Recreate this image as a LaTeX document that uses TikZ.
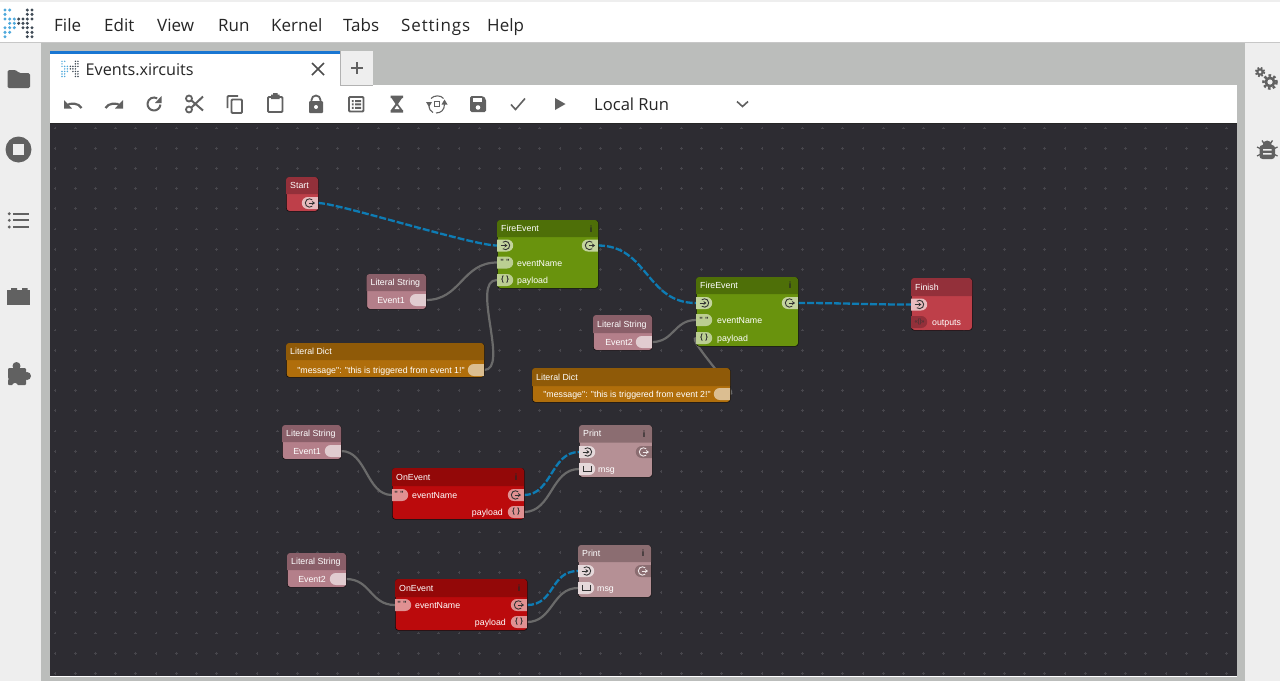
\documentclass[tikz,border=0pt]{standalone}
\usepackage{fontspec}
\setmainfont{Open Sans}
\newfontfamily\nodefont{Liberation Sans}
\usetikzlibrary{shapes.misc,arrows.meta}
\pgfdeclarelayer{canvaslayer}
\pgfdeclarelayer{linklayer}
\pgfsetlayers{canvaslayer,linklayer,main}
\definecolor{ink}{HTML}{616161}
\definecolor{chrome}{HTML}{EEEEEE}
\definecolor{shell}{HTML}{BBBDBB}
\definecolor{canvasbg}{HTML}{2D2C32}
\definecolor{gridmark}{HTML}{47464C}
\definecolor{linkblue}{HTML}{0E7CB4}
\definecolor{linkgrey}{HTML}{6A6A6A}
\definecolor{tabblue}{HTML}{1976D2}
\definecolor{logoblue}{HTML}{4FA9DC}
\definecolor{logodark}{HTML}{3F4A55}
\definecolor{startH}{HTML}{93303A}\definecolor{startB}{HTML}{BE3F49}
\definecolor{fireH}{HTML}{4E6F08}\definecolor{fireB}{HTML}{69930D}
\definecolor{litH}{HTML}{8A5F69}\definecolor{litB}{HTML}{B47F8A}
\definecolor{dictH}{HTML}{8F5A08}\definecolor{dictB}{HTML}{B06E0B}
\definecolor{onH}{HTML}{930808}\definecolor{onB}{HTML}{BB0A0C}
\definecolor{printH}{HTML}{8B6D71}\definecolor{printB}{HTML}{B59095}
\tikzset{
  menutext/.style={anchor=west,inner sep=0,text height=12pt,text depth=0pt,font=\fontsize{17}{20}\selectfont,text=black!85},
  nodebox/.style={draw=black!70!canvasbg,line width=.6,rounded corners=3,anchor=north west,inner sep=0},
  nodetitle/.style={anchor=west,inner sep=0,text height=6.4pt,text depth=0pt,text=white,font=\nodefont\fontsize{8.8}{10}\selectfont},
  rowlabel/.style={inner sep=0,text height=6.4pt,text depth=0pt,text=white,font=\nodefont\fontsize{8.8}{10}\selectfont},
  infolabel/.style={inner sep=0,text=black!85,font=\nodefont\bfseries\fontsize{9}{10}\selectfont},
  pinL/.style={rounded rectangle,rounded rectangle west arc=none,minimum width=16,minimum height=12,inner sep=0,anchor=west},
  pinR/.style={rounded rectangle,rounded rectangle east arc=none,minimum width=16,minimum height=12,inner sep=0,anchor=east},
  pinmark/.style={inner sep=0,text=black!80,font=\nodefont\bfseries\fontsize{7.5}{8}\selectfont},
  blueflow/.style={draw=linkblue,line width=2.3,dash pattern=on 7pt off 2pt},
  greyflow/.style={draw=linkgrey,line width=2.2},
  icon/.style={draw=ink,fill=none,line width=2},
  inglyph/.pic={
    \draw[line width=.9,pic actions] (0.5,0) ++(130:4.2) arc (130:-130:4.2);
    \draw[line width=1,-{Stealth[length=3pt,width=4pt]},pic actions] (-4.5,0) -- (2.4,0);},
  outglyph/.pic={
    \draw[line width=.9,pic actions] (-0.5,0) ++(50:4.2) arc (50:310:4.2);
    \draw[line width=1,-{Stealth[length=3pt,width=4pt]},pic actions] (-1.5,0) -- (5,0);},
  listglyph/.pic={
    \draw[line width=1,pic actions] (-4,-3) -- (-4,2.5) -- (4,2.5) -- (4,-3);},
  undoicon/.pic={
    \draw[draw=ink,line width=2.2] (8.5,4) .. controls (6,-1) and (-3,-2) .. (-7,2);
    \fill[ink] (-9,-4) -- (-9,4.5) -- (-1,4.5) -- cycle;},
}
\newcommand{\xcard}[9]{%
  \pgfmathsetmacro\cw{#4-#2}\pgfmathsetmacro\ch{#5-#3}
  \node[nodebox,fill=#8,minimum width=\cw pt,minimum height=\ch pt] (#1) at (#2,#3) {};
  \fill[#7] (#2,#6) [rounded corners=3] -- (#2,#3) -- (#4,#3) [sharp corners] -- (#4,#6) -- cycle;
  \pgfmathsetmacro\ty{(#3+#6)/2}\pgfmathsetmacro\tx{#2+4}
  \node[nodetitle] (#1-title) at (\tx,\ty) {#9};
}
\begin{document}
\begin{tikzpicture}[x=1pt,y=-1pt]
\useasboundingbox (0,0) rectangle (1280,681);
\begin{pgfonlayer}{canvaslayer}
\fill[white] (0,0) rectangle (1280,681);
\fill[chrome] (0,0) rectangle (1280,1.5);
\fill[shell] (41,43) rectangle (1245,681);
\fill[chrome] (0,43) rectangle (41,681);
\fill[chrome] (1245,43) rectangle (1280,681);
\fill[black!22] (0,42) rectangle (1280,43);
\fill[white] (50,85) rectangle (1237,124);
\fill[white] (50,51) rectangle (340,85);
\fill[white] (50,676) rectangle (1237,677);
\fill[canvasbg] (50,124) rectangle (1237,676);
\fill[black!85] (50,123.4) rectangle (1237,124.2);
\fill[chrome] (340,51) rectangle (373,85);
\draw[black!30,line width=.6] (340.3,51) -- (340.3,85) -- (373,85);
\fill[tabblue] (50,51) rectangle (340,54);
\foreach \i in {0,...,58}{\foreach \j in {0,...,27}{
  \pgfmathsetmacro\gx{54.9+20.2*\i}\pgfmathsetmacro\gy{128+20.2*\j}
  \fill[gridmark] (\gx-1.4,\gy-.35) rectangle (\gx+1.4,\gy+.35);
  \fill[gridmark] (\gx-.35,\gy-1.4) rectangle (\gx+.35,\gy+1.4);
}}
\end{pgfonlayer}

% application logo
\foreach \cx/\cy in {5/10,9.7/10,5/14.3,5/19,9.7/19,14.3/19,9.7/23.3,14.3/23.3,5/27.7,9.7/27.7,14.3/27.7,5/32.3,9.7/32.3,5/36.7}
  \fill[logoblue] (\cx,\cy) circle (1.7);
\foreach \cx/\cy in {27.3/10,32/10,27.3/14.3,32/14.3,18.7/19,23/19,27.3/19,32/19,18.7/23.3,23/23.3,27.3/23.3,23/27.7,27.3/27.7,32/27.7,27.3/32.3,32/32.3,27.3/36.7,32/36.7}
  \fill[logodark] (\cx,\cy) circle (1.7);

% menu
\node[menutext] (mFile) at (54,25) {File};
\node[menutext] (mEdit) at (104,25) {Edit};
\node[menutext] (mView) at (157,25) {View};
\node[menutext] (mRun) at (218,25) {Run};
\node[menutext] (mKernel) at (271,25) {Kernel};
\node[menutext] (mTabs) at (343,25) {Tabs};
\node[menutext] (mSettings) at (401,25) {\addfontfeature{LetterSpace=5}Settings};
\node[menutext] (mHelp) at (487,25) {Help};

% tab
\begin{scope}[shift={(62,60.5)},scale=.56]
\foreach \cx/\cy in {0/1,3.2/1,0/4,0/7,3.2/7,6.4/7,3.2/10,6.4/10,0/13,3.2/13,6.4/13,0/16,3.2/16,0/19,3.2/19}
  \fill[logoblue] (\cx*1.5,\cy*1.5) circle (1.5);
\foreach \cx/\cy in {16/1,19/1,16/4,19/4,10/7,13/7,16/7,19/7,10/10,13/10,16/10,13/13,16/13,19/13,16/16,19/16,16/19,19/19}
  \fill[logodark] (\cx*1.5,\cy*1.5) circle (1.5);
\end{scope}
\node[menutext,font=\fontsize{16.2}{20}\selectfont] (tabTitle) at (85.5,69) {Events.xircuits};
\draw[black!70,line width=1.5] (312,63) -- (324,75) (324,63) -- (312,75);
\draw[ink,line width=1.5] (351,68) -- (363,68) (357,62) -- (357,74);

% toolbar icons
\pic at (73,104) {undoicon};
\pic[xscale=-1] at (114,104) {undoicon};
\draw[icon] (154,104) ++(5:6.5) arc (5:300:6.5);
\fill[ink] (161.5,96) -- (161.5,103) -- (155,103) -- cycle;
% scissors
\draw[icon,line width=1.8] (189,98.5) circle (3) (189,109.5) circle (3);
\draw[ink,line width=2] (191.5,100.5) -- (203,110.5) (191.5,107.5) -- (203,96.5);
% copy
\draw[icon,line width=1.8,rounded corners=1] (227.5,108) -- (227.5,96) -- (238,96);
\draw[icon,line width=1.8,rounded corners=1] (231.5,99.5) rectangle (242,113);
% paste
\draw[icon,line width=1.8,rounded corners=1] (268,97) rectangle (282.5,112);
\fill[ink] (271,94.5) rectangle (279.5,99) (273,93) rectangle (277.5,95);
% lock
\draw[icon,line width=1.8] (311.5,102) -- (311.5,100) arc (180:360:4.5) -- (320.5,102);
\fill[ink,rounded corners=1] (309,101) rectangle (323,113);
\fill[white] (316,107) circle (2);
% list
\draw[icon,line width=1.8,rounded corners=1] (349,97) rectangle (363.5,111.5);
\fill[ink] (351.8,100) rectangle (353.5,102) (351.8,103.4) rectangle (353.5,105.4) (351.8,106.8) rectangle (353.5,108.8);
\fill[ink] (355,100) rectangle (361,102) (355,103.4) rectangle (361,105.4) (355,106.8) rectangle (361,108.8);
% hourglass
\fill[ink] (390.5,95.5) rectangle (403,98) (390.5,110) rectangle (403,112.5);
\fill[ink] (391.5,98) -- (402,98) -- (398,104) -- (402.5,110) -- (391,110) -- (395.5,104) -- cycle;
\fill[white] (394.5,109) -- (397,105.5) -- (399.5,109) -- cycle;
% compile
\draw[ink,line width=1.1] (433,112.5) .. controls (430.5,111.5) and (429,109) .. (429,105);
\draw[ink,line width=1.1] (431,98.5) .. controls (434,95) and (441,95) .. (443.5,98.5);
\draw[ink,line width=1.1] (444.5,104) .. controls (444.5,110) and (441,113) .. (436,113);
\draw[ink,line width=1] (434.5,101.5) rectangle (439.8,106.5);
\fill[ink] (426,102) -- (432,102) -- (429,107) -- cycle;
\fill[ink] (441.5,104.5) -- (447.5,104.5) -- (444.5,99.5) -- cycle;
% save
\fill[ink,rounded corners=1.5] (470,96) -- (483,96) -- (486,99) -- (486,112) -- (470,112) -- cycle;
\fill[white] (472.5,98) rectangle (481.5,102);
\fill[white] (478,107.5) circle (2.3);
% run state
\draw[ink,line width=1.6] (511,104.5) -- (515.5,109.5) -- (525,98.5);
\fill[ink] (555,98) -- (555,110) -- (565.5,104) -- cycle;
\node[menutext,font=\fontsize{16.6}{20}\selectfont] (runMode) at (594,104) {Local Run};
\draw[ink,line width=1.6] (737,101.5) -- (742.5,106.5) -- (748,101.5);

% left sidebar
\fill[ink,rounded corners=1.5] (7.5,88) -- (7.5,70) -- (16,70) -- (19,73) -- (30,73) -- (30,88) -- cycle;
\fill[ink] (18.5,149.5) circle (13);
\fill[chrome] (13,144) rectangle (24,155);
\foreach \ly in {213.7,220.3,227}{
  \fill[ink] (9.3,\ly) circle (1.6);
  \fill[ink] (13,\ly-1) rectangle (29,\ly+1);
}
\fill[ink] (7,290) rectangle (30,305);
\fill[ink] (11,288) rectangle (17,291) (22,288) rectangle (27.5,291);
\fill[ink,rounded corners=1] (8,368) rectangle (26,385);
\fill[ink] (16.5,366) circle (4);
\fill[ink] (27,376) circle (4);
\fill[chrome] (15,386) circle (3);
\fill[chrome] (6,379) circle (2.6);

% right sidebar
\fill[ink] (1260,72) circle (3.6);
\draw[ink,line width=1.8,dash pattern=on 1.8pt off 1.7pt] (1260,72) circle (4.4);
\fill[chrome] (1260,72) circle (1.6);
\fill[ink] (1270,82) circle (5.6);
\draw[ink,line width=2.4,dash pattern=on 2.6pt off 2.3pt] (1270,82) circle (6.6);
\fill[chrome] (1270,82) circle (2.6);
\fill[ink,rounded corners=3] (1259.5,145) rectangle (1275,159);
\fill[ink] (1267.2,145) circle (4.5);
\draw[ink,line width=1.3] (1262,140.5) -- (1264,143.5) (1272.5,140.5) -- (1270.5,143.5);
\draw[ink,line width=1.3] (1257,147) -- (1261,149) (1277.5,147) -- (1273.5,149) (1257,156) -- (1261,154) (1277.5,156) -- (1273.5,154);
\fill[chrome] (1263,149) rectangle (1271.5,150.5) (1263,153) rectangle (1271.5,154.5);

% ---------- cards ----------
\xcard{start}{286}{177}{318}{211}{194}{startH}{startB}{Start}
\node[pinR,fill=startB!35!white] (startOut) at (318,203) {};
\pic[draw=black!80] at (310,203) {outglyph};

\xcard{fireA}{497}{220}{598}{288}{237}{fireH}{fireB}{FireEvent}
\node[infolabel] (fireAinfo) at (591,229) {i};
\node[pinL,fill=fireB!40!white] (fireAin) at (497,245.5) {};
\node[pinR,fill=fireB!40!white] (fireAout) at (598,245.5) {};
\pic[draw=black!80] at (505,245.5) {inglyph};
\pic[draw=black!80] at (590,245.5) {outglyph};
\node[pinL,fill=fireB!45!white] (fireAname) at (497,262.5) {};
\node[pinmark] (fireAnameM) at (505,262) {" "};
\node[rowlabel,anchor=west] (fireAnameL) at (517,263) {eventName};
\node[pinL,fill=fireB!45!white] (fireApay) at (497,280) {};
\node[pinmark] (fireApayM) at (505,280) {\{ \}};
\node[rowlabel,anchor=west] (fireApayL) at (517,280) {payload};

\xcard{litA}{366.5}{274}{426}{309}{291}{litH}{litB}{Literal String}
\node[rowlabel] (litAval) at (391,300) {Event1};
\node[pinR,fill=litB!40!white] (litAout) at (426,300) {};

\xcard{dictA}{286}{343}{484}{377}{360}{dictH}{dictB}{Literal Dict}
\node[rowlabel] (dictAval) at (381,370) {"message": "this is triggered from event 1!"};
\node[pinR,fill=dictB!45!white] (dictAout) at (484,370) {};

\xcard{fireB}{696}{277}{798}{346}{294}{fireH}{fireB}{FireEvent}
\node[infolabel] (fireBinfo) at (790,285) {i};
\node[pinL,fill=fireB!40!white] (fireBin) at (696,303) {};
\node[pinR,fill=fireB!40!white] (fireBout) at (798,303) {};
\pic[draw=black!80] at (704,303) {inglyph};
\pic[draw=black!80] at (790,303) {outglyph};
\node[pinL,fill=fireB!45!white] (fireBname) at (696,320) {};
\node[pinmark] (fireBnameM) at (704,319.5) {" "};
\node[rowlabel,anchor=west] (fireBnameL) at (717,320) {eventName};
\node[pinL,fill=fireB!45!white] (fireBpay) at (696,338) {};
\node[pinmark] (fireBpayM) at (704,338) {\{ \}};
\node[rowlabel,anchor=west] (fireBpayL) at (717,338) {payload};

\xcard{litB}{593}{315}{652}{350}{333}{litH}{litB}{Literal String}
\node[rowlabel] (litBval) at (619,342) {Event2};
\node[pinR,fill=litB!40!white] (litBout) at (652,342) {};

\xcard{dictB}{532}{368}{730}{402}{386}{dictH}{dictB}{Literal Dict}
\node[rowlabel] (dictBval) at (627,394) {"message": "this is triggered from event 2!"};
\node[pinR,fill=dictB!45!white] (dictBout) at (730,394) {};

\xcard{finish}{911}{278}{972}{330}{296}{startH}{startB}{Finish}
\node[pinL,fill=startB!35!white] (finishIn) at (911,304.5) {};
\pic[draw=black!80] at (919,304.5) {inglyph};
\node[pinL,fill=startH] (finishOut) at (911,322) {};
\node[pinmark,font=\nodefont\fontsize{6}{7}\selectfont] (finishOutM) at (919.5,322) {«[]»};
\node[rowlabel,anchor=west] (finishOutL) at (932,322) {outputs};

\xcard{litC}{282}{425}{341}{459}{442}{litH}{litB}{Literal String}
\node[rowlabel] (litCval) at (307,451) {Event1};
\node[pinR,fill=litB!40!white] (litCout) at (341,451) {};

\xcard{onA}{392}{468}{524}{519}{486}{onH}{onB}{OnEvent}
\node[infolabel] (onAinfo) at (516,477) {i};
\node[pinL,fill=onB!45!white] (onAname) at (392,495) {};
\node[pinmark] (onAnameM) at (399,494) {" "};
\node[rowlabel,anchor=west] (onAnameL) at (412,495) {eventName};
\node[pinR,fill=onB!45!white] (onAout) at (524,495) {};
\pic[draw=black!80] at (516,495) {outglyph};
\node[pinR,fill=onB!45!white] (onApay) at (524,512) {};
\node[pinmark] (onApayM) at (516,512) {\{ \}};
\node[rowlabel,anchor=east] (onApayL) at (503,512) {payload};

\xcard{printA}{579}{425}{652}{477}{442.5}{printH}{printB}{Print}
\node[infolabel] (printAinfo) at (644,434) {i};
\node[pinL,fill=printB!35!white] (printAin) at (579,452) {};
\pic[draw=black!80] at (587,452) {inglyph};
\node[pinR,fill=printH] (printAout) at (652,452) {};
\pic[draw=white!80!printB] at (644,452) {outglyph};
\node[pinL,fill=printB!35!white] (printAmsg) at (579,469) {};
\pic[draw=black!80] at (587,469) {listglyph};
\node[rowlabel,anchor=west] (printAmsgL) at (598,469) {msg};

\xcard{litD}{287}{553}{346}{587}{570}{litH}{litB}{Literal String}
\node[rowlabel] (litDval) at (312,579) {Event2};
\node[pinR,fill=litB!40!white] (litDout) at (346,579) {};

\xcard{onB}{395}{579}{527}{630}{597}{onH}{onB}{OnEvent}
\node[infolabel] (onBinfo) at (519,588) {i};
\node[pinL,fill=onB!45!white] (onBname) at (395,605) {};
\node[pinmark] (onBnameM) at (402,604) {" "};
\node[rowlabel,anchor=west] (onBnameL) at (415,605) {eventName};
\node[pinR,fill=onB!45!white] (onBout) at (527,605) {};
\pic[draw=black!80] at (519,605) {outglyph};
\node[pinR,fill=onB!45!white] (onBpay) at (527,622) {};
\node[pinmark] (onBpayM) at (519,622) {\{ \}};
\node[rowlabel,anchor=east] (onBpayL) at (506,622) {payload};

\xcard{printB}{578}{545}{651}{597}{562}{printH}{printB}{Print}
\node[infolabel] (printBinfo) at (643,553) {i};
\node[pinL,fill=printB!35!white] (printBin) at (578,571) {};
\pic[draw=black!80] at (586,571) {inglyph};
\node[pinR,fill=printH] (printBout) at (651,571) {};
\pic[draw=white!80!printB] at (643,571) {outglyph};
\node[pinL,fill=printB!35!white] (printBmsg) at (578,588) {};
\pic[draw=black!80] at (586,588) {listglyph};
\node[rowlabel,anchor=west] (printBmsgL) at (597,588) {msg};

% ---------- connectors ----------
\begin{pgfonlayer}{linklayer}
\draw[blueflow] (startOut.east) .. controls +(20,0) and +(-25,0) .. (fireAin.west);
\draw[blueflow] (fireAout.east) .. controls +(50,0) and +(-50,0) .. (fireBin.west);
\draw[blueflow] (fireBout.east) .. controls +(50,0) and +(-50,0) .. (finishIn.west);
\draw[blueflow] (onAout.east) .. controls +(28,0) and +(-28,0) .. (printAin.west);
\draw[blueflow] (onBout.east) .. controls +(28,0) and +(-28,0) .. (printBin.west);
\draw[greyflow] (litAout.east) .. controls +(35,0) and +(-35,0) .. (fireAname.west);
\draw[greyflow] (dictAout.east) .. controls +(26,0) and +(-27,0) .. (fireApay.west);
\draw[greyflow] (litBout.east) .. controls +(22,0) and +(-22,0) .. (fireBname.west);
\draw[greyflow] (dictBout.east) .. controls +(10,0) and +(-10,0) .. (fireBpay.west);
\draw[greyflow] (litCout.east) .. controls +(26,0) and +(-26,0) .. (onAname.west);
\draw[greyflow] (litDout.east) .. controls +(25,0) and +(-25,0) .. (onBname.west);
\draw[greyflow] (onApay.east) .. controls +(28,0) and +(-28,0) .. (printAmsg.west);
\draw[greyflow] (onBpay.east) .. controls +(26,0) and +(-26,0) .. (printBmsg.west);
\end{pgfonlayer}
\end{tikzpicture}
\end{document}
